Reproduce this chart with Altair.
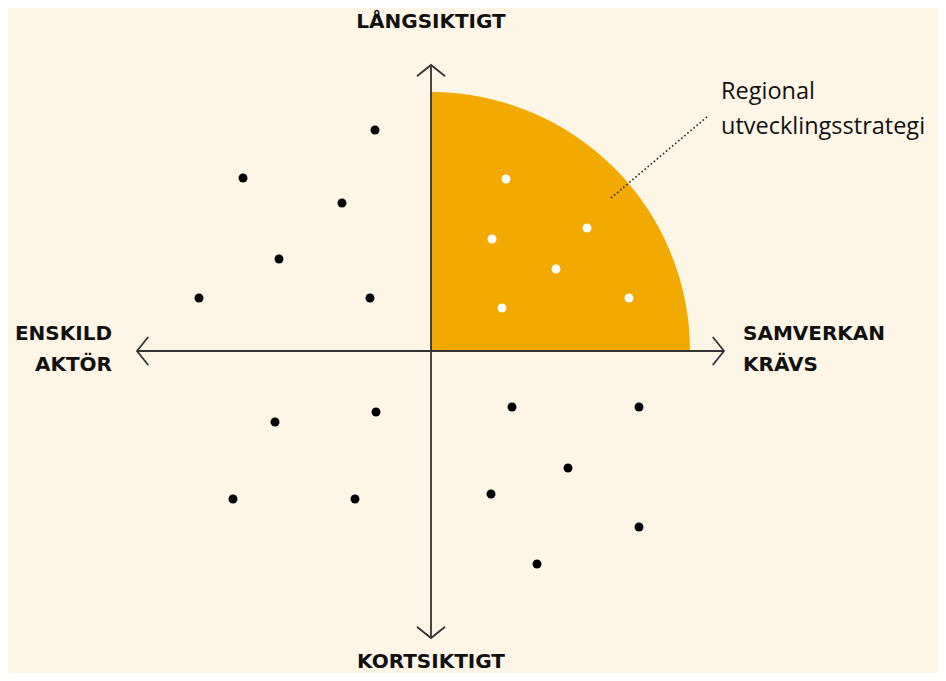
import math
import altair as alt
import pandas as pd

# ---- data (relative to the origin of the two axes; y up) ----
black_x = [-56, -188, -89, -152, -232, -61, -55, -156, -198, -76, 81, 208, 137, 60, 208, 106]
black_y = [221, 173, 148, 92, 53, 53, -61, -71, -148, -148, -56, -56, -117, -143, -176, -213]
white_x = [75, 61, 156, 125, 198, 71]
white_y = [172, 112, 123, 82, 53, 43]

axis_top = 286
axis_bottom = -287
axis_left = -294
axis_right = 293
region_radius = 259

label_top = "LÅNGSIKTIGT"
label_bottom = "KORTSIKTIGT"
label_left = ["ENSKILD", "AKTÖR"]
label_right = ["SAMVERKAN", "KRÄVS"]
label_region = ["Regional", "utvecklingsstrategi"]

# ---- layout ----
W, H = 930, 665
CX, CY = 423, 343  # origin in plot pixels
xs = alt.Scale(domain=[-CX, W - CX], nice=False, zero=False)
ys = alt.Scale(domain=[-(H - CY), CY], nice=False, zero=False)

BG = "#fdf5e6"
ORANGE = "#f2a900"
INK = "#333333"

one = pd.DataFrame({"a": [0]})

def X(v):
    return alt.datum(v, type="quantitative", scale=xs, axis=None)

def Y(v):
    return alt.datum(v, type="quantitative", scale=ys, axis=None)

region = alt.Chart(one).mark_arc(
    theta=0, theta2=math.pi / 2, radius=region_radius, color=ORANGE
).encode(x=X(0), y=Y(0))

vline = alt.Chart(one).mark_rule(color=INK, strokeWidth=1.8).encode(
    x=X(0), y=Y(axis_bottom), y2=alt.datum(axis_top)
)
hline = alt.Chart(one).mark_rule(color=INK, strokeWidth=1.8).encode(
    x=X(axis_left), x2=alt.datum(axis_right), y=Y(0)
)

arrow_path = "M-1,0.8L0,0L1,0.8"
def arrow(x, y, ang):
    return alt.Chart(one).mark_point(
        shape=arrow_path, size=729, filled=False, stroke=INK, strokeWidth=1.8,
        angle=ang, opacity=1, strokeCap="round", strokeJoin="miter"
    ).encode(x=X(x), y=Y(y))

arrows = [arrow(0, axis_top, 0), arrow(axis_right, 0, 90),
          arrow(0, axis_bottom, 180), arrow(axis_left, 0, 270)]

bdf = pd.DataFrame({"x": black_x, "y": black_y})
wdf = pd.DataFrame({"x": white_x, "y": white_y})
bdots = alt.Chart(bdf).mark_circle(color="#000000", size=80, opacity=1).encode(
    x=alt.X("x:Q", scale=xs, axis=None), y=alt.Y("y:Q", scale=ys, axis=None)
)
wdots = alt.Chart(wdf).mark_circle(color="#ffffff", size=80, opacity=1).encode(
    x=alt.X("x:Q", scale=xs, axis=None), y=alt.Y("y:Q", scale=ys, axis=None)
)

leader = alt.Chart(one).mark_rule(color="#222222", strokeWidth=1.6, strokeDash=[1.6, 2.4]).encode(
    x=X(180), x2=alt.datum(277), y=Y(153), y2=alt.datum(235)
)

def txt(t, px, py, align="center", bold=True, size=20, font="DejaVu Sans"):
    return alt.Chart(one).mark_text(
        text=t, align=align, baseline="middle", font=font, fontSize=size,
        fontWeight="bold" if bold else "normal", color="#111111"
    ).encode(x=alt.value(px), y=alt.value(py))

texts = [
    txt(label_top, 423, 14),
    txt(label_bottom, 423, 654),
    txt(label_left[0], 104, 326, align="right"),
    txt(label_left[1], 104, 357, align="right"),
    txt(label_right[0], 735, 326, align="left"),
    txt(label_right[1], 735, 357, align="left"),
    txt(label_region[0], 713, 84, align="left", bold=False, size=23.5, font="Open Sans"),
    txt(label_region[1], 713, 119, align="left", bold=False, size=23.5, font="Open Sans"),
]

chart = alt.layer(region, vline, hline, *arrows, bdots, wdots, leader, *texts).properties(
    width=W, height=H, autosize=alt.AutoSizeParams(type="none"), padding=0, background=BG
).configure_view(stroke=None)

chart.save("out.html", embed_options={"renderer": "svg", "actions": False})
